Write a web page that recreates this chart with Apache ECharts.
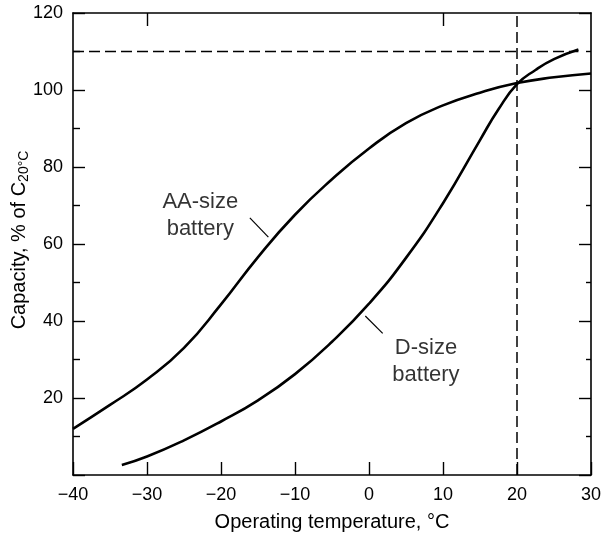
<!DOCTYPE html>
<html><head><meta charset="utf-8">
<script src="https://cdn.jsdelivr.net/npm/echarts@6/dist/echarts.min.js"></script>
<style>html,body{margin:0;padding:0;background:#fff}#c{width:606px;height:534px}</style>
</head><body><div id="c"></div>
<script>
// Axis ranges / ticks
const xMin = -40, xMax = 30, xStep = 10;
const yMin = 0, yMax = 120, yStep = 20;
const topTickTemps = [-30, 10];

// AA-size battery: capacity (% of C20°C) vs operating temperature (°C)
const aaTemp = [-40, -35, -30, -25, -20, -15, -10, -5, 0, 5, 10, 15, 20, 25, 30];
const aaCap  = [12, 18.2, 24.8, 33, 44.3, 56.6, 67.6, 76.8, 84.8, 91.4, 96, 99.3, 101.8, 103.3, 104.3];

// D-size battery
const dTemp = [-33.4, -30, -25, -20, -15, -10, -5, 0, 5, 10, 15, 17.5, 20, 22.5, 25, 28.3];
const dCap  = [2.6, 4.8, 9, 13.9, 19.4, 26.2, 34.6, 44.5, 56.4, 70.6, 87, 95, 101.5, 105.2, 108, 110.5];

// Reference dashed lines
const refHTemp = [-40, 28.3], refHCap = [110, 110];
const refVTemp = [20, 20],    refVCap = [0, 120];

// Annotations
const aaLabel = 'AA-size\nbattery', aaLabelAt = [-22.8, 67.5];
const aaLeaderTemp = [-16.1, -13.6], aaLeaderCap = [66.8, 61.8];
const dLabel = 'D-size\nbattery', dLabelAt = [7.7, 29.5];
const dLeaderTemp = [-0.5, 1.85], dLeaderCap = [41.3, 36.8];

const yTitleMain = 'Capacity, % of C', yTitleSub = '20°C';
const xTitle = 'Operating temperature, °C';

const FONT = '"Liberation Sans", Arial, Helvetica, sans-serif';
const pairs = (xs, ys) => xs.map((x, i) => [x, ys[i]]);
const minus = v => String(v).replace('-', '\u2212');

const chart = echarts.init(document.getElementById('c'), null, {renderer: 'canvas'});
const axisLine = {show: true, onZero: false, lineStyle: {color: '#000', width: 1.6}};
const tickStyle = {color: '#000', width: 1.4};
chart.setOption({
  animation: false,
  backgroundColor: '#fff',
  textStyle: {fontFamily: FONT},
  grid: {left: 73, top: 13, right: 15, bottom: 59, containLabel: false, outerBoundsMode: 'none'},
  xAxis: [{
    type: 'value', min: xMin, max: xMax, interval: xStep, position: 'bottom',
    axisLine: axisLine,
    axisTick: {show: true, inside: true, length: 13, lineStyle: tickStyle},
    axisLabel: {color: '#000', fontSize: 18, margin: 11, fontFamily: FONT, formatter: minus},
    splitLine: {show: false},
    name: xTitle, nameLocation: 'middle', nameGap: 37,
    nameTextStyle: {color: '#000', fontSize: 20, fontFamily: FONT}
  }, {
    type: 'value', min: xMin, max: xMax, interval: xStep, position: 'top',
    axisLine: axisLine,
    axisTick: {show: true, inside: true, length: 13, customValues: topTickTemps, lineStyle: tickStyle},
    axisLabel: {show: false}, splitLine: {show: false}
  }],
  yAxis: [{
    type: 'value', min: yMin, max: yMax, interval: yStep, position: 'left',
    axisLine: axisLine,
    axisTick: {show: true, inside: true, length: 12, lineStyle: tickStyle},
    minorTick: {show: true, splitNumber: 2, length: 7, lineStyle: tickStyle},
    axisLabel: {color: '#000', fontSize: 18, margin: 10, fontFamily: FONT,
      formatter: v => v === 0 ? '' : String(v)},
    splitLine: {show: false}
  }, {
    type: 'value', min: yMin, max: yMax, interval: yStep, position: 'right',
    axisLine: axisLine,
    axisTick: {show: true, inside: true, length: 12, lineStyle: tickStyle},
    minorTick: {show: true, splitNumber: 2, length: 5, lineStyle: tickStyle},
    axisLabel: {show: false}, splitLine: {show: false}
  }],
  graphic: [{
    type: 'text', x: 19, y: 240, rotation: Math.PI / 2,
    style: {
      text: '{a|' + yTitleMain + '}{s|' + yTitleSub + '}',
      align: 'center', verticalAlign: 'middle', fill: '#000',
      rich: {
        a: {fontSize: 20, fontFamily: FONT, fill: '#000'},
        s: {fontSize: 14, fontFamily: FONT, fill: '#000', padding: [10, 0, 0, 0]}
      }
    }
  }],
  series: [
    {type: 'line', name: 'AA-size', data: pairs(aaTemp, aaCap), smooth: 0.5, symbol: 'none',
      lineStyle: {color: '#000', width: 2.6}, silent: true},
    {type: 'line', name: 'D-size', data: pairs(dTemp, dCap), smooth: 0.5, symbol: 'none',
      lineStyle: {color: '#000', width: 2.6}, silent: true},
    {type: 'line', data: pairs(refHTemp, refHCap), symbol: 'none',
      lineStyle: {color: '#000', width: 1.5, type: [11, 5]}, silent: true},
    {type: 'line', data: pairs(refVTemp, refVCap), symbol: 'none',
      lineStyle: {color: '#000', width: 1.5, type: [11, 5]}, silent: true},
    {type: 'line', data: pairs(aaLeaderTemp, aaLeaderCap), symbol: 'none',
      lineStyle: {color: '#000', width: 1.2}, silent: true},
    {type: 'line', data: pairs(dLeaderTemp, dLeaderCap), symbol: 'none',
      lineStyle: {color: '#000', width: 1.2}, silent: true},
    {type: 'scatter', symbolSize: 0, silent: true,
      data: [{value: aaLabelAt, label: {formatter: aaLabel}}, {value: dLabelAt, label: {formatter: dLabel}}],
      label: {show: true, position: 'inside', color: '#000', fontSize: 22, lineHeight: 27, fontFamily: FONT, align: 'center'}}
  ]
});
</script></body></html>
